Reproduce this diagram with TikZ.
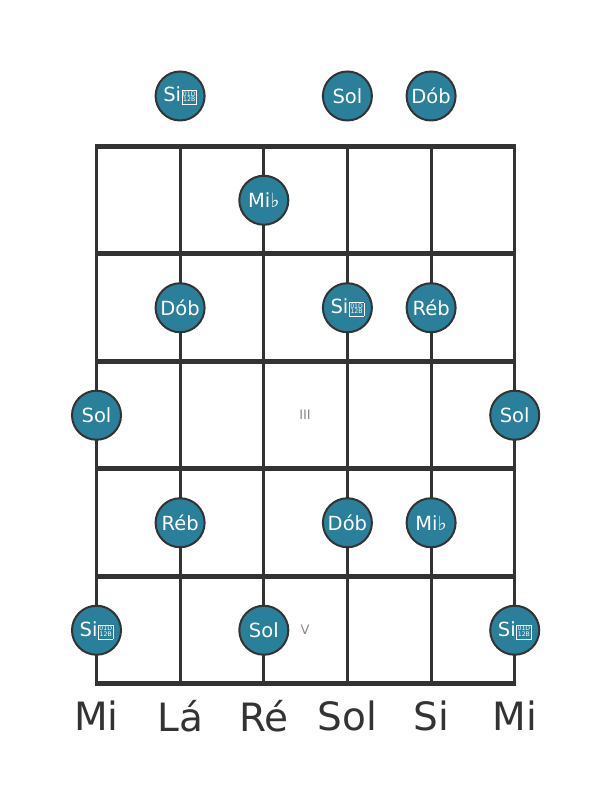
\documentclass[tikz,border=0pt]{standalone}
\usepackage{fontspec}
\setmainfont{DejaVu Sans}
\definecolor{notefill}{HTML}{2A7F9A}
\definecolor{lineclr}{HTML}{333333}
\definecolor{labelgray}{HTML}{888888}
\newcommand\tofubox{\kern0.6pt{\setlength\fboxsep{0.7pt}\setlength\fboxrule{0.6pt}\fbox{\fontsize{6.2}{6.2}\selectfont\begin{tabular}[b]{@{}c@{}}01D\\[-1pt]12B\end{tabular}}}}
\tikzset{
  note/.style={circle, fill=notefill, draw=lineclr, line width=2pt, minimum size=49pt, inner sep=0pt, text=white, font=\fontsize{19.5}{19.5}\selectfont},
  strline/.style={draw=lineclr, line width=3pt},
  fretline/.style={draw=lineclr, line width=5pt},
  strname/.style={text=lineclr, font=\fontsize{39}{39}\selectfont, inner sep=0pt},
  fretnum/.style={text=labelgray, font=\fontsize{13}{13}\selectfont, inner sep=0pt}
}
\begin{document}
\begin{tikzpicture}[x=1pt,y=1pt]
\useasboundingbox (0,0) rectangle (611,801);
% string coordinates
\foreach \i in {0,...,5} {
  \coordinate (st\i) at ({96.5+83.64*\i},{801-146.5});
  \coordinate (sb\i) at ({96.5+83.64*\i},{801-684});
}
% fret coordinates
\foreach \j in {0,...,5} {
  \coordinate (fl\j) at (95,{801-146.5-107.5*\j});
  \coordinate (fr\j) at (516.2,{801-146.5-107.5*\j});
}
\foreach \i in {0,...,5} { \draw[strline] (st\i) -- (sb\i); }
\foreach \j in {0,...,5} { \draw[fretline] (fl\j) -- (fr\j); }
% fret numbers
\node[fretnum] (f3) at (305,{801-415}) {III};
\node[fretnum] (f5) at (305,{801-630}) {V};
% open strings
\node[note] (o1) at (180.1,{801-96}) {Si\tofubox};
\node[note] (o3) at (347.4,{801-96}) {Sol};
\node[note] (o4) at (431.1,{801-96}) {Dób};
% fret 1
\node[note] (n12) at (263.8,{801-200.25}) {Mi♭};
% fret 2
\node[note] (n21) at (180.1,{801-307.75}) {Dób};
\node[note] (n23) at (347.4,{801-307.75}) {Si\tofubox};
\node[note] (n24) at (431.1,{801-307.75}) {Réb};
% fret 3
\node[note] (n30) at (96.5,{801-415.25}) {Sol};
\node[note] (n35) at (514.7,{801-415.25}) {Sol};
% fret 4
\node[note] (n41) at (180.1,{801-522.75}) {Réb};
\node[note] (n43) at (347.4,{801-522.75}) {Dób};
\node[note] (n44) at (431.1,{801-522.75}) {Mi♭};
% fret 5
\node[note] (n50) at (96.5,{801-630.25}) {Si\tofubox};
\node[note] (n52) at (263.8,{801-630.25}) {Sol};
\node[note] (n55) at (514.7,{801-630.25}) {Si\tofubox};
% string names
\node[strname] (m0) at (96.5,{801-716}) {Mi};
\node[strname] (m1) at (180.1,{801-716}) {Lá};
\node[strname] (m2) at (263.8,{801-716}) {Ré};
\node[strname] (m3) at (347.4,{801-716}) {Sol};
\node[strname] (m4) at (431.1,{801-716}) {Si};
\node[strname] (m5) at (514.7,{801-716}) {Mi};
\end{tikzpicture}
\end{document}
